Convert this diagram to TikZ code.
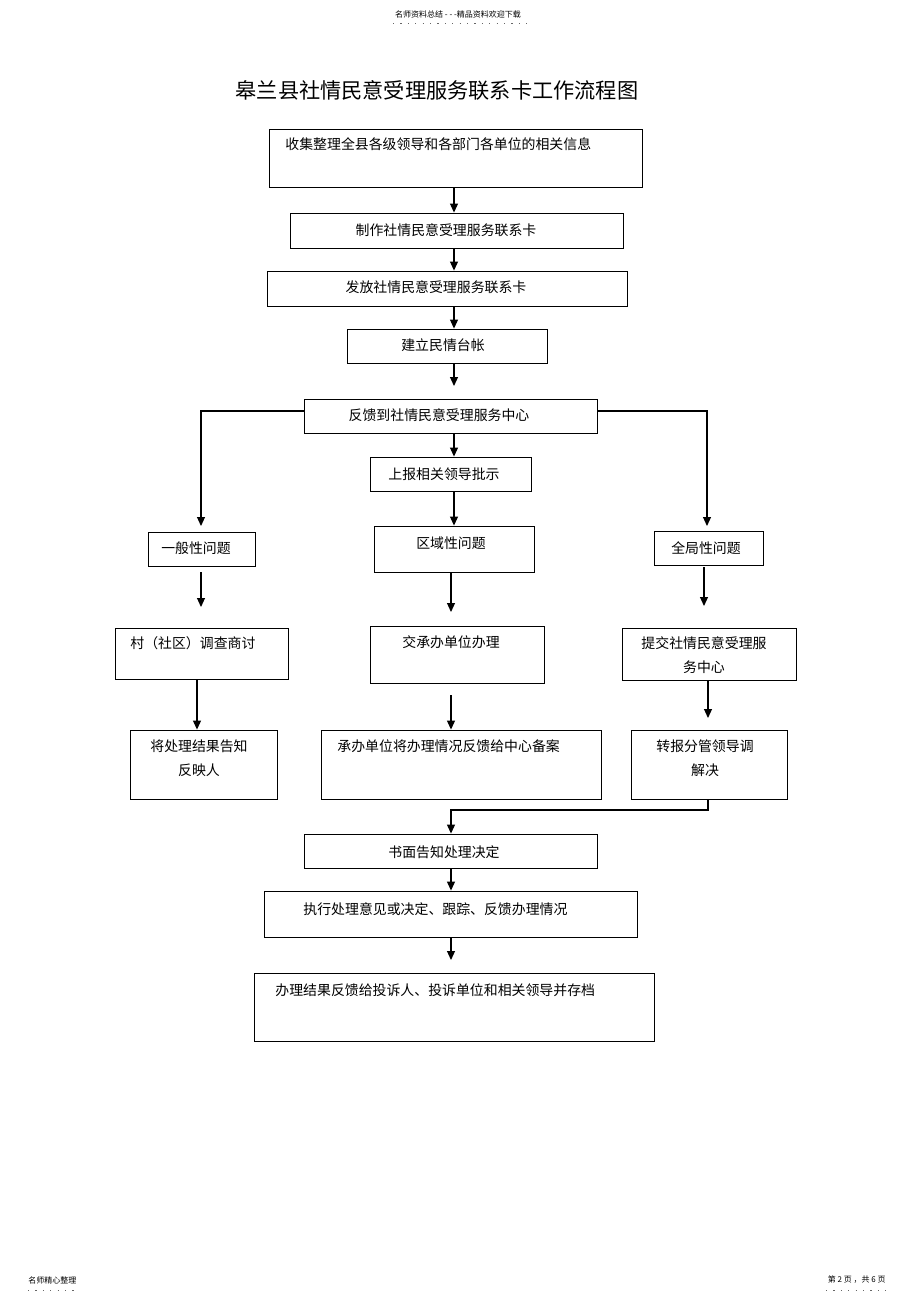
\documentclass[tikz,border=0pt]{standalone}
\usepackage{fontspec}
\setmainfont{Noto Sans CJK SC}
\usetikzlibrary{arrows.meta,fit}

\begin{document}
\begin{tikzpicture}[x=0.5pt,y=-0.5pt]
		\tikzstyle{every node}+=[inner sep=0pt]
		\tikzstyle{box}=[draw=black, line width=0.45pt]
		\tikzstyle{txt}=[font=\fontsize{6.95}{12}\selectfont, align=center]
		\tikzstyle{small}=[font=\fontsize{4}{5}\selectfont]
		\tikzstyle{arr}=[black, line width=0.55pt, -{Triangle[length=4.5pt,width=4pt]}]
		\tikzstyle{dots}=[black!60, line width=0.5pt, dash pattern=on 0.6pt off 3.1pt]
		\useasboundingbox (0,0) rectangle (920,1303);
		% header and footer
		\node [small] (head) at (458,14) {名师资料总结 - - -精品资料欢迎下载};
		\draw [dots] (393,23) -- (527,23);
		\node [small, anchor=west] (footl) at (28,1280) {名师精心整理};
		\draw [dots] (28,1290) -- (77,1290);
		\node [small, anchor=east] (footr) at (886,1280) {第 2 页 ，共 6 页};
		\draw [dots] (826,1290) -- (891,1290);
		% title
		\node [font=\fontsize{10.6}{12}\selectfont] (title) at (437,90) {皋兰县社情民意受理服务联系卡工作流程图};
		% boxes
		\node [box, fit={(269,129) (642,187)}] (b1) {};
		\node [box, fit={(290,213) (623,248)}] (b2) {};
		\node [box, fit={(267,271) (627,306)}] (b3) {};
		\node [box, fit={(347,329) (547,363)}] (b4) {};
		\node [box, fit={(304,399) (597,433)}] (b5) {};
		\node [box, fit={(370,457) (531,491)}] (b6) {};
		\node [box, fit={(148,532) (255,566)}] (b7) {};
		\node [box, fit={(374,526) (534,572)}] (b8) {};
		\node [box, fit={(654,531) (763,565)}] (b9) {};
		\node [box, fit={(115,628) (288,679)}] (b10) {};
		\node [box, fit={(370,626) (544,683)}] (b11) {};
		\node [box, fit={(622,628) (796,680)}] (b12) {};
		\node [box, fit={(130,730) (277,799)}] (b13) {};
		\node [box, fit={(321,730) (601,799)}] (b14) {};
		\node [box, fit={(631,730) (787,799)}] (b15) {};
		\node [box, fit={(304,834) (597,868)}] (b16) {};
		\node [box, fit={(264,891) (637,937)}] (b17) {};
		\node [box, fit={(254,973) (654,1041)}] (b18) {};
		% texts
		\node [txt, anchor=west] (t1) at (285,144) {收集整理全县各级领导和各部门各单位的相关信息};
		\node [txt] (t2) at (446,230) {制作社情民意受理服务联系卡};
		\node [txt] (t3) at (436,287) {发放社情民意受理服务联系卡};
		\node [txt] (t4) at (443,345) {建立民情台帐};
		\node [txt] (t5) at (439,415) {反馈到社情民意受理服务中心};
		\node [txt] (t6) at (444,474) {上报相关领导批示};
		\node [txt] (t7) at (196,548) {一般性问题};
		\node [txt] (t8) at (451,543) {区域性问题};
		\node [txt] (t9) at (706,548) {全局性问题};
		\node [txt, anchor=west] (t10) at (130,643) {村（社区）调查商讨};
		\node [txt] (t11) at (451,642) {交承办单位办理};
		\node [txt] (t12) at (704,655) {提交社情民意受理服\\务中心};
		\node [txt] (t13) at (199,758) {将处理结果告知\\反映人};
		\node [txt, anchor=west] (t14) at (337,746) {承办单位将办理情况反馈给中心备案};
		\node [txt] (t15) at (705,758) {转报分管领导调\\解决};
		\node [txt] (t16) at (444,852) {书面告知处理决定};
		\node [txt, anchor=west] (t17) at (303,909) {执行处理意见或决定、跟踪、反馈办理情况};
		\node [txt, anchor=west] (t18) at (275,990) {办理结果反馈给投诉人、投诉单位和相关领导并存档};
		% columns and free ends
		\coordinate (mx) at (454,0);
		\coordinate (cx) at (451,0);
		\coordinate (lx) at (197,0);
		\coordinate (e4) at (454,386);
		\coordinate (e7) at (201,526);
		\coordinate (e9) at (707,526);
		\coordinate (s10) at (201,572);
		\coordinate (e10) at (201,607);
		\coordinate (e11) at (451,612);
		\coordinate (s12) at (704,567);
		\coordinate (e12) at (704,606);
		\coordinate (s14) at (451,695);
		\coordinate (e15) at (708,718);
		\coordinate (k15) at (708,810);
		\coordinate (e18) at (451,960);
		% connectors
		\draw [arr] (b1.south -| mx) -- (b2.north -| mx);
		\draw [arr] (b2.south -| mx) -- (b3.north -| mx);
		\draw [arr] (b3.south -| mx) -- (b4.north -| mx);
		\draw [arr] (b4.south -| mx) -- (e4);
		\draw [arr] (b5.south -| mx) -- (b6.north -| mx);
		\draw [arr] (b6.south -| mx) -- (b8.north -| mx);
		\draw [arr] ([yshift=2.5pt]b5.west) -| (e7);
		\draw [arr] ([yshift=2.5pt]b5.east) -| (e9);
		\draw [arr] (s10) -- (e10);
		\draw [arr] (b8.south -| cx) -- (e11);
		\draw [arr] (s12) -- (e12);
		\draw [arr] (b10.south -| lx) -- (b13.north -| lx);
		\draw [arr] (s14) -- (b14.north -| cx);
		\draw [arr] (b12.south -| k15) -- (e15);
		\draw [arr] (b15.south -| k15) -- (k15) -| (b16.north -| cx);
		\draw [arr] (b16.south -| cx) -- (b17.north -| cx);
		\draw [arr] (b17.south -| cx) -- (e18);
	\end{tikzpicture}
\end{document}
